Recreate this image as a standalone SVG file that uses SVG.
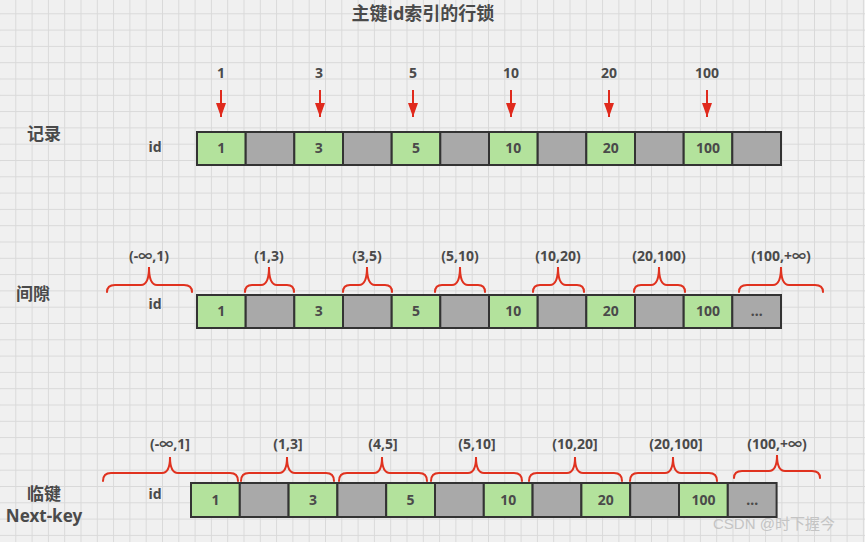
<svg xmlns="http://www.w3.org/2000/svg" width="865" height="542" viewBox="0 0 865 542">
<defs>
<pattern id="grid" x="-1" y="-3" width="16.3" height="16.3" patternUnits="userSpaceOnUse">
<rect x="0" y="0" width="1" height="16.3" fill="#d9d9d9"/>
<rect x="0" y="0" width="16.3" height="1" fill="#d9d9d9"/>
</pattern>
<marker id="ahd" viewBox="0 0 10 14" refX="5" refY="14" markerWidth="10" markerHeight="14" markerUnits="userSpaceOnUse" orient="0">
<path d="M0 0L10 0L5 14Z" fill="#e02a1d"/>
</marker>
</defs>
<style>
text{font-family:"Noto Sans","Noto Sans CJK SC",sans-serif;font-weight:bold;fill:#4a4a4a;}
.t{font-size:18px;}
.lab{font-size:17px;}
.sm{font-size:14px;}
.c{font-size:14px;text-anchor:middle;}
.g{fill:#b3e29c;stroke:#333;stroke-width:2;}
.k{fill:#a9a9a9;stroke:#333;stroke-width:2;}
.arr{stroke:#e02a1d;stroke-width:2;fill:none;}
.br{stroke:#e0321f;stroke-width:2;fill:none;stroke-linecap:round;}
.wm{font-family:"Liberation Sans","Noto Sans CJK SC",sans-serif;font-weight:normal;font-size:15px;fill:#c4c4c4;}
</style>
<rect width="865" height="542" fill="#f0f0f0"/>
<rect width="865" height="542" fill="url(#grid)"/>

<text class="t" x="423" y="20" text-anchor="middle">主键id索引的行锁</text>

<text class="lab" x="44" y="140" text-anchor="middle">记录</text>
<text class="sm" x="155" y="152" text-anchor="middle">id</text>
<text class="lab" x="33" y="300" text-anchor="middle">间隙</text>
<text class="sm" x="155" y="309" text-anchor="middle">id</text>
<text class="lab" x="44" y="500" text-anchor="middle">临键</text>
<text class="lab" x="44" y="522" text-anchor="middle">Next-key</text>
<text class="sm" x="155" y="499" text-anchor="middle">id</text>

<!-- Row 1 -->
<g id="row1">
<g id="r1c0"><rect class="g" x="197" y="132" width="48.7" height="33"/><text class="c" x="221.3" y="153">1</text></g>
<g id="r1c1"><rect class="k" x="245.7" y="132" width="48.7" height="33"/></g>
<g id="r1c2"><rect class="g" x="294.3" y="132" width="48.7" height="33"/><text class="c" x="318.7" y="153">3</text></g>
<g id="r1c3"><rect class="k" x="343" y="132" width="48.7" height="33"/></g>
<g id="r1c4"><rect class="g" x="391.7" y="132" width="48.7" height="33"/><text class="c" x="416" y="153">5</text></g>
<g id="r1c5"><rect class="k" x="440.3" y="132" width="48.7" height="33"/></g>
<g id="r1c6"><rect class="g" x="489" y="132" width="48.7" height="33"/><text class="c" x="513.3" y="153">10</text></g>
<g id="r1c7"><rect class="k" x="537.7" y="132" width="48.7" height="33"/></g>
<g id="r1c8"><rect class="g" x="586.3" y="132" width="48.7" height="33"/><text class="c" x="610.7" y="153">20</text></g>
<g id="r1c9"><rect class="k" x="635" y="132" width="48.7" height="33"/></g>
<g id="r1c10"><rect class="g" x="683.7" y="132" width="48.7" height="33"/><text class="c" x="708" y="153">100</text></g>
<g id="r1c11"><rect class="k" x="732.3" y="132" width="48.7" height="33"/></g>
</g>

<g id="labels1">
<text class="c" x="221" y="78">1</text>
<text class="c" x="319" y="78">3</text>
<text class="c" x="413" y="78">5</text>
<text class="c" x="511" y="78">10</text>
<text class="c" x="609" y="78">20</text>
<text class="c" x="707" y="78">100</text>
</g>

<g id="connectors">
<path class="arr" d="M221 90V117" marker-end="url(#ahd)"/>
<path class="arr" d="M320 90V117" marker-end="url(#ahd)"/>
<path class="arr" d="M413 90V117" marker-end="url(#ahd)"/>
<path class="arr" d="M511 90V117" marker-end="url(#ahd)"/>
<path class="arr" d="M609 90V117" marker-end="url(#ahd)"/>
<path class="arr" d="M707 90V117" marker-end="url(#ahd)"/>
</g>

<!-- Row 2 -->
<g id="row2">
<g id="r2c0"><rect class="g" x="197" y="295" width="48.7" height="33"/><text class="c" x="221.3" y="316">1</text></g>
<g id="r2c1"><rect class="k" x="245.7" y="295" width="48.7" height="33"/></g>
<g id="r2c2"><rect class="g" x="294.3" y="295" width="48.7" height="33"/><text class="c" x="318.7" y="316">3</text></g>
<g id="r2c3"><rect class="k" x="343" y="295" width="48.7" height="33"/></g>
<g id="r2c4"><rect class="g" x="391.7" y="295" width="48.7" height="33"/><text class="c" x="416" y="316">5</text></g>
<g id="r2c5"><rect class="k" x="440.3" y="295" width="48.7" height="33"/></g>
<g id="r2c6"><rect class="g" x="489" y="295" width="48.7" height="33"/><text class="c" x="513.3" y="316">10</text></g>
<g id="r2c7"><rect class="k" x="537.7" y="295" width="48.7" height="33"/></g>
<g id="r2c8"><rect class="g" x="586.3" y="295" width="48.7" height="33"/><text class="c" x="610.7" y="316">20</text></g>
<g id="r2c9"><rect class="k" x="635" y="295" width="48.7" height="33"/></g>
<g id="r2c10"><rect class="g" x="683.7" y="295" width="48.7" height="33"/><text class="c" x="708" y="316">100</text></g>
<g id="r2c11"><rect class="k" x="732.3" y="295" width="48.7" height="33"/><text class="c" x="756.7" y="316">...</text></g>
</g>

<g id="braces2">
<path class="br" d="M107 292Q107 285 115 285L141 285Q149 285 149 267Q149 285 157 285L184 285Q192 285 192 292"/>
<path class="br" d="M245 292Q245 285 252 285L261 285Q269 285 269 267Q269 285 277 285L287 285Q294 285 294 292"/>
<path class="br" d="M343 292Q343 285 350 285L359 285Q367 285 367 267Q367 285 375 285L385 285Q392 285 392 292"/>
<path class="br" d="M435 292Q435 285 442 285L452 285Q460 285 460 267Q460 285 468 285L478 285Q485 285 485 292"/>
<path class="br" d="M533 292Q533 285 540 285L550 285Q558 285 558 267Q558 285 566 285L577 285Q584 285 584 292"/>
<path class="br" d="M634 292Q634 285 641 285L651 285Q659 285 659 267Q659 285 667 285L678 285Q685 285 685 292"/>
<path class="br" d="M739 292Q739 285 747 285L773 285Q781 285 781 267Q781 285 789 285L815 285Q823 285 823 292"/>
</g>
<g id="labels2">
<text class="c" x="149" y="261">(-∞,1)</text>
<text class="c" x="269" y="261">(1,3)</text>
<text class="c" x="367" y="261">(3,5)</text>
<text class="c" x="460" y="261">(5,10)</text>
<text class="c" x="558" y="261">(10,20)</text>
<text class="c" x="659" y="261">(20,100)</text>
<text class="c" x="781" y="261">(100,+∞)</text>
</g>

<!-- Row 3 -->
<g id="row3">
<g id="r3c0"><rect class="g" x="191" y="483" width="48.8" height="34"/><text class="c" x="215.4" y="505">1</text></g>
<g id="r3c1"><rect class="k" x="239.8" y="483" width="48.8" height="34"/></g>
<g id="r3c2"><rect class="g" x="288.6" y="483" width="48.8" height="34"/><text class="c" x="313" y="505">3</text></g>
<g id="r3c3"><rect class="k" x="337.4" y="483" width="48.8" height="34"/></g>
<g id="r3c4"><rect class="g" x="386.2" y="483" width="48.8" height="34"/><text class="c" x="410.6" y="505">5</text></g>
<g id="r3c5"><rect class="k" x="435" y="483" width="48.8" height="34"/></g>
<g id="r3c6"><rect class="g" x="483.8" y="483" width="48.8" height="34"/><text class="c" x="508.2" y="505">10</text></g>
<g id="r3c7"><rect class="k" x="532.6" y="483" width="48.8" height="34"/></g>
<g id="r3c8"><rect class="g" x="581.4" y="483" width="48.8" height="34"/><text class="c" x="605.8" y="505">20</text></g>
<g id="r3c9"><rect class="k" x="630.2" y="483" width="48.8" height="34"/></g>
<g id="r3c10"><rect class="g" x="679" y="483" width="48.8" height="34"/><text class="c" x="703.4" y="505">100</text></g>
<g id="r3c11"><rect class="k" x="727.8" y="483" width="48.8" height="34"/><text class="c" x="752.2" y="505">...</text></g>
</g>

<g id="braces3">
<path class="br" d="M103 481Q103 473 111 473L162 473Q170 473 170 457Q170 473 178 473L230 473Q238 473 238 481"/>
<path class="br" d="M241 481Q241 473 249 473L279 473Q287 473 287 457Q287 473 295 473L326 473Q334 473 334 481"/>
<path class="br" d="M339 481Q339 473 347 473L374 473Q382 473 382 457Q382 473 390 473L419 473Q427 473 427 481"/>
<path class="br" d="M431 481Q431 473 439 473L468 473Q476 473 476 457Q476 473 484 473L514 473Q522 473 522 481"/>
<path class="br" d="M529 481Q529 473 537 473L567 473Q575 473 575 457Q575 473 583 473L614 473Q622 473 622 481"/>
<path class="br" d="M630 481Q630 473 638 473L665 473Q673 473 673 457Q673 473 681 473L709 473Q717 473 717 481"/>
<path class="br" d="M734 478Q734 471 742 471L769 471Q777 471 777 455Q777 471 785 471L812 471Q820 471 820 478"/>
</g>
<g id="labels3">
<text class="c" x="170" y="449">(-∞,1]</text>
<text class="c" x="288" y="449">(1,3]</text>
<text class="c" x="383" y="449">(4,5]</text>
<text class="c" x="477" y="449">(5,10]</text>
<text class="c" x="575" y="449">(10,20]</text>
<text class="c" x="676" y="449">(20,100]</text>
<text class="c" x="777" y="449">(100,+∞)</text>
</g>

<text class="wm" x="713" y="529">CSDN @时下握今</text>
</svg>
